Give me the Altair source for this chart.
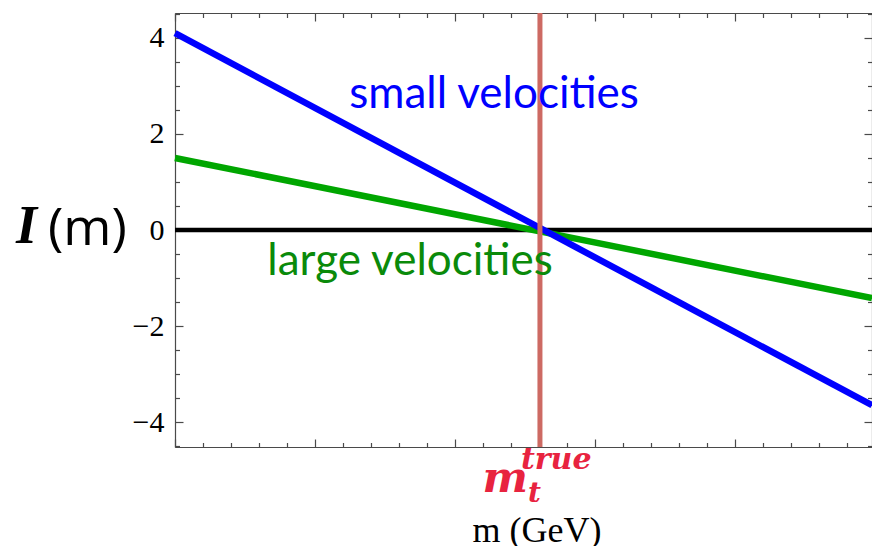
import altair as alt
import pandas as pd

# ---- data ----
m_ends = [0.0, 4.979]          # x extent of the plotted lines (arbitrary mass units)
small_vel = [4.10, -3.65]      # I(m) for small velocities
large_vel = [1.50, -1.42]      # I(m) for large velocities
m_true = [2.607]               # true top mass position
zero_level = [0.0]

y_major = [-4, -2, 0, 2, 4]
y_minor = [-4.5, -3.5, -3, -2.5, -1.5, -1, -0.5, 0.5, 1, 1.5, 2.5, 3, 3.5, 4.5]
x_major = [0, 1, 2, 3, 4]
x_minor = [0.2, 0.4, 0.6, 0.8, 1.2, 1.4, 1.6, 1.8, 2.2, 2.4, 2.6, 2.8,
           3.2, 3.4, 3.6, 3.8, 4.2, 4.4, 4.6, 4.8]

labels_txt = ["small velocities", "large velocities"]
labels_x = [2.279, 1.679]
labels_y = [2.54, -0.94]

W, H = 697, 434
FRAME = "#4a4a4a"

lines = pd.DataFrame({
    "m": m_ends * 2,
    "I": small_vel + large_vel,
    "series": ["small"] * 2 + ["large"] * 2,
})

xs = alt.Scale(domain=[0, 4.979], nice=False, zero=False)
ys = alt.Scale(domain=[-4.52, 4.52], nice=False, zero=False)

def X(axis):
    return alt.X("m:Q", scale=xs, axis=axis, title=None)

def Y(axis):
    return alt.Y("I:Q", scale=ys, axis=axis, title=None)

# frame + tick labels
frame1 = alt.Chart(lines).mark_point(opacity=0).encode(
    x=X(alt.Axis(orient="bottom", labels=False, ticks=False, domain=True,
                 domainColor=FRAME, domainWidth=1.2, grid=False)),
    y=Y(alt.Axis(orient="left", values=y_major, ticks=False, domain=True,
                 domainColor=FRAME, domainWidth=1.2, grid=False,
                 labelFont="Liberation Serif", labelFontSize=30, labelColor="black",
                 labelPadding=11, labelExpr="replace(datum.label, '-', '\u2212')")),
)
frame2 = alt.Chart(lines).mark_point(opacity=0).encode(
    x=X(alt.Axis(orient="top", labels=False, ticks=False, domain=True,
                 domainColor=FRAME, domainWidth=1.2, grid=False)),
    y=Y(alt.Axis(orient="right", labels=False, ticks=False, domain=True,
                 domainColor=FRAME, domainWidth=1.2, grid=False)),
)

def tick_layer(xorient, yorient, xvals, yvals, size):
    return alt.Chart(lines).mark_point(opacity=0).encode(
        x=X(alt.Axis(orient=xorient, offset=-H, values=xvals, tickSize=size,
                     tickColor=FRAME, tickWidth=1.2, labels=False, domain=False,
                     grid=False)),
        y=Y(alt.Axis(orient=yorient, offset=-W, values=yvals, tickSize=size,
                     tickColor=FRAME, tickWidth=1.2, labels=False, domain=False,
                     grid=False)),
    )

t1 = tick_layer("top", "right", x_major, y_major, 8)     # bottom + left, major
t2 = tick_layer("top", "right", x_minor, y_minor, 4.5)   # bottom + left, minor
t3 = tick_layer("bottom", "left", x_major, y_major, 8)   # top + right, major
t4 = tick_layer("bottom", "left", x_minor, y_minor, 4.5) # top + right, minor

zero_df = pd.DataFrame({"I": zero_level})
zero = alt.Chart(zero_df).mark_rule(color="black", strokeWidth=4.5).encode(
    y=alt.Y("I:Q", scale=ys, axis=None))

green = alt.Chart(lines[lines.series == "large"]).mark_line(
    color="#00a600", strokeWidth=6.5).encode(x=X(None), y=Y(None))
blue = alt.Chart(lines[lines.series == "small"]).mark_line(
    color="#0000ff", strokeWidth=6.5).encode(x=X(None), y=Y(None))

mt_df = pd.DataFrame({"m": m_true})
red = alt.Chart(mt_df).mark_rule(color="#cd6a63", strokeWidth=5).encode(
    x=alt.X("m:Q", scale=xs, axis=None))

lab_df = pd.DataFrame({"m": labels_x, "I": labels_y, "t": labels_txt,
                       "c": ["#0000ff", "#0a8a0a"]})
labels = alt.Chart(lab_df).mark_text(
    font="Lato", fontSize=44, baseline="alphabetic", align="center").encode(
    x=X(None), y=Y(None), text="t:N", color=alt.Color("c:N", scale=None))

# axis titles / annotations
ylab_I = alt.Chart(mt_df).mark_text(
    text="I", font="Liberation Serif", fontStyle="italic", fontWeight="bold",
    fontSize=54, align="left", baseline="alphabetic", color="black").encode(
    x=alt.value(-159), y=alt.value(230))
ylab_m = alt.Chart(mt_df).mark_text(
    text="(m)", font="Open Sans", fontSize=52, align="left", baseline="alphabetic",
    color="black").encode(x=alt.value(-127), y=alt.value(232))

xlab = alt.Chart(mt_df).mark_text(
    text="m (GeV)", font="Liberation Serif", fontSize=36, align="center",
    baseline="alphabetic", color="black").encode(
    x=alt.value(362), y=alt.value(529))

RED_TXT = "#e8233f"
mt_m = alt.Chart(mt_df).mark_text(
    text="m", font="DejaVu Serif", fontStyle="italic", fontWeight="bold",
    fontSize=43, align="right", baseline="alphabetic", color=RED_TXT, dx=-12).encode(
    x=alt.X("m:Q", scale=xs, axis=None), y=alt.value(479))
mt_t = alt.Chart(mt_df).mark_text(
    text="t", font="DejaVu Serif", fontStyle="italic", fontWeight="bold",
    fontSize=28, align="left", baseline="alphabetic", color=RED_TXT, dx=-12).encode(
    x=alt.X("m:Q", scale=xs, axis=None), y=alt.value(489))
mt_true = alt.Chart(mt_df).mark_text(
    text="true", font="DejaVu Serif", fontStyle="italic", fontWeight="bold",
    fontSize=30, align="left", baseline="alphabetic", color=RED_TXT, dx=-19).encode(
    x=alt.X("m:Q", scale=xs, axis=None), y=alt.value(456))

chart = alt.layer(
    frame1, frame2, t1, t2, t3, t4,
    zero, green, blue, red, labels,
    ylab_I, ylab_m, xlab, mt_m, mt_t, mt_true,
).resolve_axis(x="independent", y="independent").properties(
    width=W, height=H,
    autosize=alt.AutoSizeParams(type="none"),
    padding={"left": 175, "top": 13, "right": 0, "bottom": 99},
).configure_view(stroke=None).configure(background="white")

chart.save("out.html", embed_options={"renderer": "svg", "actions": False})
